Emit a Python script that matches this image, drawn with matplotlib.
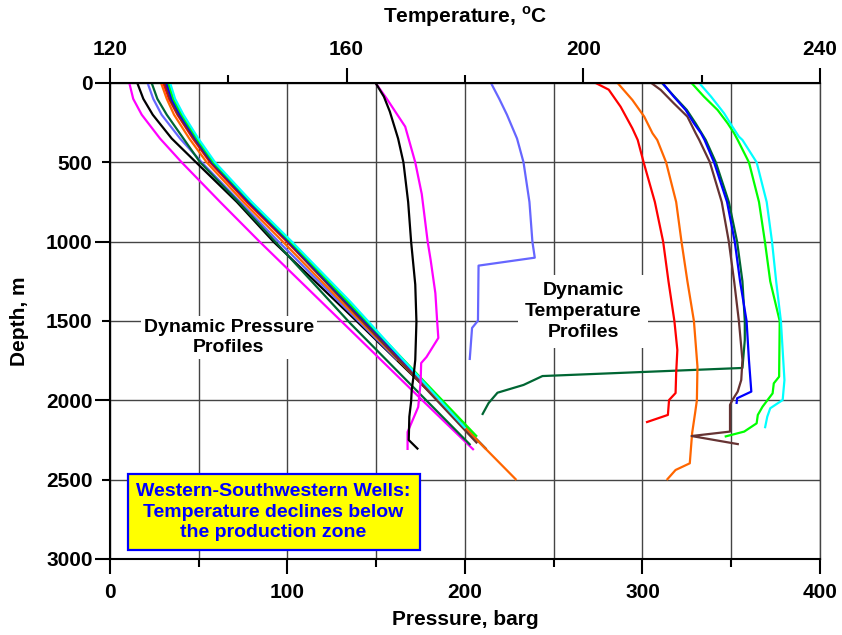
import matplotlib.pyplot as plt

plt.rcParams['font.family'] = ['Liberation Sans', 'DejaVu Sans']
plt.rcParams['font.weight'] = 'bold'
plt.rcParams['mathtext.fontset'] = 'custom'
plt.rcParams['mathtext.rm'] = 'Liberation Sans:bold'
plt.rcParams['mathtext.bf'] = 'Liberation Sans:bold'

# well colours (draw order)
colors = ['#ff00ff', '#000000', '#6666ff', '#006633', '#ff6600',
          '#ff0000', '#663333', '#0000ff', '#00ff00', '#00ffff']

# dynamic pressure profiles: depth (m), pressure (barg)
p_depth = [
    [0, 100, 200, 350, 500, 750, 1000, 1500, 2000, 2313],
    [0, 100, 200, 350, 500, 750, 1000, 1500, 2000, 2309],
    [0, 100, 200, 350, 500, 750, 1000, 1500, 1746],
    [0, 100, 200, 350, 500, 750, 1000, 1515, 2282],
    [0, 100, 200, 350, 500, 750, 1000, 1500, 2000, 2502],
    [0, 100, 200, 350, 500, 750, 1000, 1500, 2139],
    [0, 100, 200, 350, 500, 750, 1000, 1500, 2271],
    [0, 100, 200, 350, 500, 750, 1000, 1500, 2023],
    [0, 100, 200, 350, 500, 750, 1000, 1500, 2229],
    [0, 100, 200, 350, 500, 750, 1000, 1378, 2176],
]
p_value = [
    [10.9, 13.1, 17.9, 28.2, 40.4, 62.1, 84.3, 130.2, 176.0, 205.0],
    [15.4, 18.8, 24.1, 34.8, 48.5, 71.5, 92.1, 138.9, 185.0, 212.1],
    [21.2, 24.4, 29.1, 39.5, 51.7, 73.3, 95.0, 140.0, 162.0],
    [23.5, 26.7, 32.0, 41.4, 50.8, 72.4, 93.1, 135.4, 203.1],
    [28.8, 32.0, 36.1, 44.7, 54.5, 75.2, 97.4, 141.0, 184.7, 229.0],
    [30.1, 33.3, 38.0, 46.7, 56.4, 77.1, 99.7, 143.0, 198.0],
    [31.0, 33.9, 38.5, 47.4, 57.0, 78.0, 100.3, 142.2, 206.9],
    [32.0, 34.8, 39.5, 48.3, 57.8, 78.6, 101.0, 143.7, 188.5],
    [32.9, 35.7, 40.4, 48.9, 58.3, 79.4, 101.7, 144.5, 206.8],
    [33.9, 36.7, 41.4, 49.8, 59.2, 79.9, 102.5, 135.4, 200.3],
]

# dynamic temperature profiles: depth (m), temperature (C)
t_depth = [
    [0, 100, 275, 500, 700, 1000, 1115, 1325, 1500, 1607, 1727, 1765, 1890, 2042, 2200, 2313],
    [0, 86, 180, 350, 500, 750, 1000, 1270, 1504, 1746, 1851, 1935, 2008, 2103, 2250, 2309],
    [0, 100, 200, 350, 500, 750, 1000, 1101, 1151, 1498, 1544, 1746],
    [0, 90, 170, 255, 359, 500, 750, 1000, 1250, 1500, 1620, 1796, 1847, 1903, 1952, 2017, 2092],
    [0, 107, 212, 317, 359, 500, 750, 1000, 1250, 1500, 1788, 2000, 2080, 2206, 2397, 2439, 2502],
    [0, 42, 149, 286, 359, 500, 750, 1000, 1250, 1500, 1683, 1828, 1954, 1998, 2092, 2139],
    [0, 44, 128, 212, 317, 359, 500, 750, 1000, 1250, 1500, 1746, 1872, 1945, 1998, 2029, 2197, 2225, 2277],
    [0, 86, 170, 254, 317, 359, 500, 750, 1000, 1250, 1500, 1746, 1945, 1987, 2023],
    [0, 86, 170, 254, 317, 359, 500, 750, 1000, 1250, 1500, 1851, 1893, 1956, 2040, 2092, 2145, 2197, 2229],
    [0, 86, 191, 275, 338, 359, 500, 750, 1000, 1250, 1500, 1872, 1998, 2050, 2103, 2176],
]
t_value = [
    [164.9, 166.8, 169.9, 171.6, 172.7, 173.7, 174.2, 175.0, 175.3, 175.5, 173.5, 172.6, 172.5, 172.1, 170.3, 170.3],
    [164.9, 166.3, 167.3, 168.7, 169.6, 170.4, 170.9, 171.6, 171.8, 171.6, 171.3, 171.0, 170.9, 170.6, 170.5, 172.1],
    [184.4, 185.8, 187.1, 188.8, 189.9, 190.9, 191.4, 191.8, 182.3, 182.2, 181.2, 180.8],
    [213.3, 215.5, 217.5, 219.0, 220.7, 222.4, 224.6, 226.0, 226.9, 227.3, 227.3, 226.9, 193.1, 189.9, 185.5, 184.0, 182.9],
    [205.8, 208.3, 210.3, 211.7, 212.5, 214.0, 215.7, 216.6, 217.6, 218.7, 219.3, 219.2, 218.9, 218.4, 218.0, 215.6, 214.1],
    [202.1, 204.3, 206.3, 208.3, 209.2, 210.2, 212.1, 213.5, 214.4, 215.4, 215.9, 215.7, 215.6, 214.5, 214.3, 210.6],
    [211.5, 213.1, 215.3, 217.6, 219.0, 219.6, 221.4, 223.4, 224.6, 225.5, 226.3, 226.9, 226.7, 226.1, 225.2, 224.8, 224.8, 218.3, 226.3],
    [213.4, 215.3, 217.3, 218.7, 219.9, 220.5, 222.1, 224.3, 225.6, 226.5, 227.6, 228.0, 228.4, 226.0, 225.9],
    [218.3, 220.4, 222.7, 224.4, 225.5, 226.1, 228.0, 229.7, 230.7, 231.6, 233.2, 233.1, 232.2, 232.0, 230.3, 229.5, 229.3, 227.2, 223.9],
    [219.6, 221.6, 223.8, 225.2, 226.3, 226.9, 229.3, 231.0, 231.9, 232.6, 233.4, 234.0, 233.7, 231.6, 231.1, 230.7],
]

fig = plt.figure(figsize=(8.42, 6.35), dpi=100)
ax = fig.add_axes([0.1306, 0.1197, 0.8432, 0.7496])
ax2 = ax.twiny()

for d, p, c in zip(p_depth, p_value, colors):
    ax.plot(p, d, color=c, lw=1.6, solid_capstyle='butt')
for d, t, c in zip(t_depth, t_value, colors):
    ax2.plot(t, d, color=c, lw=1.6, solid_capstyle='butt')

# bottom axis: pressure
ax.set_xlim(0, 400)
ax.set_ylim(3000, 0)
ax.set_xticks([0, 100, 200, 300, 400])
ax.set_xticks([50, 150, 250, 350], minor=True)
ax.set_yticks([0, 1000, 2000, 3000])
ax.set_yticks([500, 1500, 2500], labels=['500', '1500', '2500'], minor=True)
ax.grid(which='both', color='#444444', lw=1.0)
ax.tick_params(axis='x', which='major', length=11, width=1.5, pad=6, labelsize=15)
ax.tick_params(axis='x', which='minor', length=5.5, width=1.5)
ax.tick_params(axis='y', which='major', length=11, width=1.5, pad=1.5, labelsize=15)
ax.tick_params(axis='y', which='minor', length=5.5, width=1.5, pad=7, labelsize=15)
for s in ['left', 'bottom']:
    ax.spines[s].set_linewidth(1.5)
ax.spines['top'].set_visible(False)
ax.spines['right'].set_linewidth(1.0)
ax.spines['right'].set_color('#444444')

ax.set_xlabel('Pressure, barg', fontsize=15, fontweight='bold')
ax.set_ylabel('Depth, m', fontsize=15, fontweight='bold')
ax.xaxis.set_label_coords(0.5, -0.128)
ax.xaxis.label.set_va('center')
ax.yaxis.set_label_coords(-0.127, 0.5)
ax.yaxis.label.set_va('center')

# top axis: temperature
ax2.set_xlim(120, 240)
ax2.set_xticks([120, 160, 200, 240])
ax2.set_xticks([140, 180, 220], minor=True)
ax2.tick_params(axis='x', which='major', length=11, width=1.5, pad=6, labelsize=15)
ax2.tick_params(axis='x', which='minor', length=5.5, width=1.5)
for s in ['left', 'bottom', 'right']:
    ax2.spines[s].set_visible(False)
ax2.spines['top'].set_linewidth(1.5)
ax2.set_xlabel(r'Temperature, $^\mathbf{o}$C', fontsize=15, fontweight='bold')
ax2.xaxis.set_label_coords(0.5, 1.139)
ax2.xaxis.label.set_va('center')

# annotations
ax2.text(67, 1604, 'Dynamic Pressure\nProfiles', transform=ax.transData,
         ha='center', va='center', fontsize=14, fontweight='bold', linespacing=1.25,
         bbox=dict(boxstyle='square,pad=0.15', fc='white', ec='none'), zorder=5)
ax2.text(266.6, 1441, 'Dynamic\nTemperature\nProfiles', transform=ax.transData,
         ha='center', va='center', fontsize=14, fontweight='bold', linespacing=1.3,
         bbox=dict(boxstyle='square,pad=0.35', fc='white', ec='none'), zorder=5)
ax2.text(92.2, 2704, 'Western-Southwestern Wells:\nTemperature declines below\nthe production zone',
         transform=ax.transData, ha='center', va='center', fontsize=14,
         fontweight='bold', color='#0000ff', linespacing=1.3,
         bbox=dict(boxstyle='square,pad=0.45', fc='#ffff00', ec='#0000ff', lw=1.6), zorder=5)

fig.savefig('out.png', dpi=100)
